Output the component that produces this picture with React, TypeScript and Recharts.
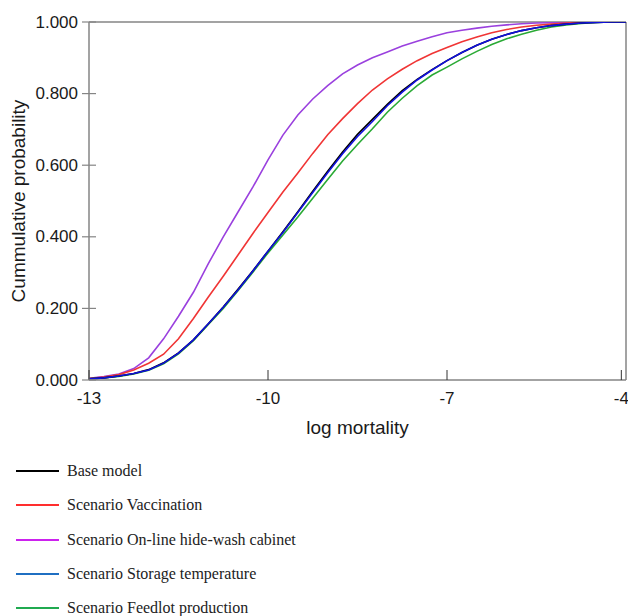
import React from 'react';
import { LineChart, Line, XAxis, YAxis, ReferenceLine } from 'recharts';

const logMortality = [
  -13, -12.75, -12.5, -12.25, -12, -11.75, -11.5, -11.25, -11, -10.75, -10.5, -10.25,
  -10, -9.75, -9.5, -9.25, -9, -8.75, -8.5, -8.25, -8, -7.75, -7.5, -7.25,
  -7, -6.75, -6.5, -6.25, -6, -5.75, -5.5, -5.25, -5, -4.75, -4.5, -4.25, -4,
];

const baseModel = [
  0.003, 0.006, 0.011, 0.018, 0.029, 0.048, 0.076, 0.112, 0.157, 0.204, 0.254, 0.306,
  0.36, 0.414, 0.47, 0.527, 0.583, 0.637, 0.686, 0.728, 0.77, 0.808, 0.84, 0.867,
  0.892, 0.915, 0.935, 0.952, 0.965, 0.976, 0.984, 0.99, 0.994, 0.997, 0.999, 1, 1,
];

const vaccination = [
  0.004, 0.008, 0.015, 0.028, 0.047, 0.072, 0.115, 0.172, 0.232, 0.29, 0.35, 0.41,
  0.468, 0.525, 0.578, 0.633, 0.685, 0.73, 0.772, 0.81, 0.841, 0.868, 0.892, 0.912,
  0.929, 0.945, 0.958, 0.97, 0.979, 0.986, 0.991, 0.994, 0.997, 0.999, 1, 1, 1,
];

const hideWash = [
  0.005, 0.01, 0.017, 0.032, 0.062, 0.115, 0.178, 0.245, 0.325, 0.4, 0.47, 0.54,
  0.615, 0.684, 0.74, 0.785, 0.822, 0.855, 0.88, 0.9, 0.916, 0.933, 0.946, 0.959,
  0.97, 0.977, 0.983, 0.988, 0.992, 0.995, 0.997, 0.998, 0.999, 1, 1, 1, 1,
];

const storageTemp = [
  0.003, 0.006, 0.011, 0.018, 0.028, 0.047, 0.075, 0.112, 0.157, 0.203, 0.252, 0.305,
  0.36, 0.412, 0.468, 0.524, 0.579, 0.632, 0.68, 0.722, 0.766, 0.804, 0.838, 0.866,
  0.892, 0.915, 0.935, 0.952, 0.965, 0.976, 0.984, 0.99, 0.994, 0.997, 0.999, 1, 1,
];

const feedlot = [
  0.003, 0.006, 0.01, 0.017, 0.027, 0.045, 0.073, 0.11, 0.155, 0.2, 0.25, 0.302,
  0.355, 0.405, 0.455, 0.508, 0.56, 0.612, 0.658, 0.702, 0.748, 0.787, 0.822, 0.852,
  0.874, 0.897, 0.918, 0.937, 0.953, 0.966, 0.977, 0.986, 0.992, 0.996, 0.999, 1, 1,
];

const seriesKeys = ['base', 'vacc', 'hide', 'storage', 'feedlot'];
const seriesNames = [
  'Base model',
  'Scenario Vaccination',
  'Scenario On-line hide-wash cabinet',
  'Scenario Storage temperature',
  'Scenario Feedlot production',
];
const seriesValues = [baseModel, vaccination, hideWash, storageTemp, feedlot];
const lineColors = ['#000000', '#f03535', '#9a40de', '#1010dd', '#2aaa35'];
const legendColors = ['#000000', '#ff2e2e', '#cc22ee', '#1f6fc2', '#20aa50'];
const drawOrder = [2, 1, 4, 0, 3];

const xTicks = [-13, -10, -7, -4];
const yTicks = [0, 0.2, 0.4, 0.6, 0.8, 1];

const data = logMortality.map((x, i) => {
  const row: Record<string, number> = { x };
  seriesKeys.forEach((k, s) => {
    row[k] = seriesValues[s][i];
  });
  return row;
});

const AXIS = '#858585';
const SANS = '"Liberation Sans", Arial, Helvetica, sans-serif';

const XTick = (props: any) => {
  const { x, y, payload } = props;
  return (
    <g>
      <line x1={x} x2={x} y1={y} y2={y - 10} stroke="#333" strokeWidth={1} />
      <text x={x} y={y + 18} textAnchor="middle" dominantBaseline="central" fontFamily={SANS} fontSize={17} fill="#1a1a1a">
        {payload.value}
      </text>
    </g>
  );
};

const YTick = (props: any) => {
  const { x, y, payload } = props;
  return (
    <g>
      <line x1={x - 7} x2={x + 7} y1={y} y2={y} stroke={AXIS} strokeWidth={1.2} />
      <text x={x - 11} y={y} textAnchor="end" dominantBaseline="central" fontFamily={SANS} fontSize={17} fill="#1a1a1a">
        {Number(payload.value).toFixed(3)}
      </text>
    </g>
  );
};

const YLabel = (props: any) => {
  const vb = props.viewBox || { x: 0, y: 22, width: 89, height: 358 };
  const cx = 18;
  const cy = vb.y + vb.height / 2;
  return (
    <text x={cx} y={cy} transform={`rotate(-90, ${cx}, ${cy})`} textAnchor="middle" dominantBaseline="central" fontFamily={SANS} fontSize={19} fill="#1a1a1a">
      Cummulative probability
    </text>
  );
};

const XLabel = (props: any) => {
  const vb = props.viewBox || { x: 89, y: 380, width: 537, height: 60 };
  const cx = vb.x + vb.width / 2;
  return (
    <text x={cx} y={427} textAnchor="middle" dominantBaseline="central" fontFamily={SANS} fontSize={19} fill="#1a1a1a">
      log mortality
    </text>
  );
};

export default function App() {
  return (
    <div style={{ position: 'absolute', left: 0, top: 0, width: 628, height: 616, background: '#fff', overflow: 'hidden' }}>
      <LineChart width={628} height={445} data={data} margin={{ top: 22, right: 2, bottom: 5, left: 0 }}>
        <XAxis
          dataKey="x"
          type="number"
          domain={[-13, -4]}
          ticks={xTicks}
          tickSize={0}
          tickMargin={0}
          tickLine={false}
          tick={<XTick />}
          height={60}
          stroke={AXIS}
          strokeWidth={1.5}
          label={<XLabel />}
          allowDataOverflow
        />
        <YAxis
          type="number"
          domain={[0, 1]}
          ticks={yTicks}
          tickSize={0}
          tickMargin={0}
          tickLine={false}
          tick={<YTick />}
          width={89}
          stroke={AXIS}
          strokeWidth={1.5}
          label={<YLabel />}
          allowDataOverflow
        />
        <ReferenceLine y={1} stroke={AXIS} strokeWidth={1.5} />
        <ReferenceLine x={-4} stroke={AXIS} strokeWidth={1.5} />
        {drawOrder.map((s) => (
          <Line
            key={seriesKeys[s]}
            dataKey={seriesKeys[s]}
            name={seriesNames[s]}
            stroke={lineColors[s]}
            strokeWidth={1.6}
            dot={false}
            type="linear"
            isAnimationActive={false}
          />
        ))}
      </LineChart>
      <div style={{ position: 'absolute', left: 0, top: 453, width: 628 }}>
        {seriesNames.map((name, i) => (
          <div key={name} style={{ position: 'relative', height: 34.3 }}>
            <div style={{ position: 'absolute', left: 16, top: 17, width: 43, height: 2, background: legendColors[i] }} />
            <div
              style={{
                position: 'absolute',
                left: 67,
                top: 0,
                height: 36,
                lineHeight: '36px',
                fontFamily: '"Liberation Serif", "Times New Roman", serif',
                fontSize: 16,
                color: '#222',
                whiteSpace: 'nowrap',
              }}
            >
              {name}
            </div>
          </div>
        ))}
      </div>
    </div>
  );
}
